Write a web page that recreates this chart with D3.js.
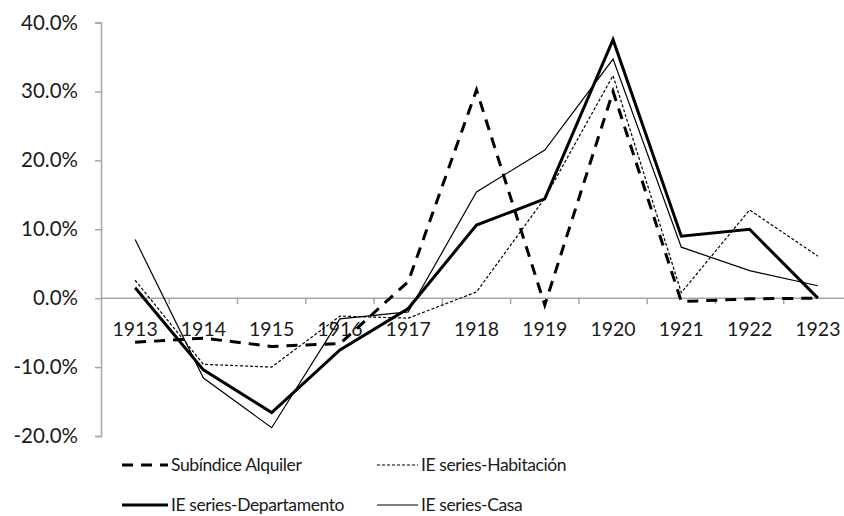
<!DOCTYPE html>
<html><head><meta charset="utf-8">
<script src="https://cdn.jsdelivr.net/npm/d3@7"></script>
<style>
body{margin:0;background:#fff;}
svg{display:block;font-family:Lato, "Open Sans", sans-serif;}
</style></head>
<body>
<svg id="c" width="844" height="516"></svg>
<script>
const years = ["1913","1914","1915","1916","1917","1918","1919","1920","1921","1922","1923"];
const alquiler     = [-6.4, -5.8, -7.0, -6.6,  2.4, 30.2, -1.0, 30.0, -0.5, -0.1, 0.0];
const habitacion   = [ 2.6, -9.6,-10.0, -2.6, -2.9,  0.9, 14.5, 32.3,  0.8, 12.8, 6.1];
const departamento = [ 1.5,-10.4,-16.6, -7.5, -1.5, 10.6, 14.4, 37.5,  9.0, 10.0, 0.0];
const casa         = [ 8.5,-11.6,-18.8, -3.0, -2.0, 15.4, 21.5, 34.7,  7.4,  4.0, 1.8];
const yTicks = [-20, -10, 0, 10, 20, 30, 40];
const seriesNames = ["Subíndice Alquiler","IE series-Habitación","IE series-Departamento","IE series-Casa"];

const series = [
  {name: seriesNames[0], values: alquiler,     w: 3,   dash: "11,8"},
  {name: seriesNames[1], values: habitacion,   w: 1.2, dash: "3,2"},
  {name: seriesNames[2], values: departamento, w: 3,   dash: null},
  {name: seriesNames[3], values: casa,         w: 1.2, dash: null}
];

const svg = d3.select("#c");
const x = d3.scaleBand().domain(years).range([101, 852]);
const y = d3.scaleLinear().domain([-20, 40]).range([436, 22.5]);
const axisColor = "#a6a6a6";

// Y axis
const yAxis = svg.append("g").attr("transform", "translate(101,0)")
  .call(d3.axisLeft(y).tickValues(yTicks).tickSize(6).tickPadding(17)
    .tickFormat(d => d.toFixed(1) + "%"));
yAxis.select(".domain").attr("stroke", axisColor).attr("stroke-width", 1.5);
yAxis.selectAll(".tick line").attr("stroke", axisColor).attr("stroke-width", 1.5);
yAxis.selectAll(".tick text").attr("fill", "#1a1a1a").style("font-size", "20.5px")
  .style("font-family", "Lato, sans-serif");

// X axis at zero
const xg = svg.append("g").attr("transform", `translate(0,${y(0)})`);
xg.append("line").attr("x1", 101).attr("x2", 852).attr("stroke", axisColor).attr("stroke-width", 1.5);
const bounds = years.map(d => x(d)).concat([x(years[years.length-1]) + x.bandwidth()]);
xg.selectAll("line.tk").data(bounds.slice(1)).join("line").attr("class","tk")
  .attr("x1", d => d).attr("x2", d => d).attr("y1", 0).attr("y2", 6)
  .attr("stroke", axisColor).attr("stroke-width", 1.5);
xg.selectAll("text").data(years).join("text")
  .attr("x", d => x(d) + x.bandwidth()/2).attr("y", 38)
  .attr("text-anchor", "middle").attr("fill", "#1a1a1a").style("font-size", "19.5px")
  .text(d => d);

// Lines
const line = d3.line().x((d,i) => x(years[i]) + x.bandwidth()/2).y(d => y(d));
series.forEach(s => {
  svg.append("path").datum(s.values).attr("d", line)
    .attr("fill", "none").attr("stroke", "#000").attr("stroke-width", s.w)
    .attr("stroke-dasharray", s.dash).attr("stroke-linejoin", "miter");
});

// Legend
const legPos = [[122, 465], [377, 465], [122, 505], [377, 505]];
series.forEach((s, i) => {
  const [lx, ly] = legPos[i];
  const len = i % 2 === 0 ? 46 : 41;
  svg.append("line").attr("x1", lx).attr("x2", lx + len).attr("y1", ly).attr("y2", ly)
    .attr("stroke", "#000").attr("stroke-width", s.w).attr("stroke-dasharray", s.dash);
  svg.append("text").attr("x", lx + len + 3).attr("y", ly).attr("dy", "0.35em")
    .attr("fill", "#1a1a1a").style("font-size", "17.5px").style("letter-spacing", "-0.4px")
    .text(s.name);
});
</script>
</body></html>
